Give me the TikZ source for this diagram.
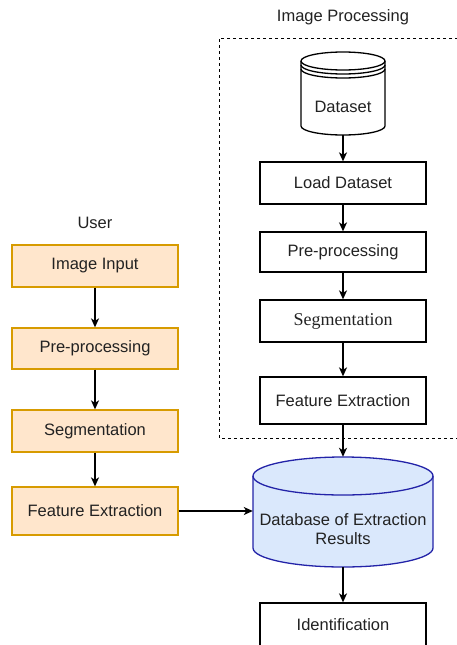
\documentclass[tikz,border=0pt]{standalone}
\usepackage{fontspec}
\setmainfont{Liberation Sans}
\newfontfamily\serifont{Liberation Serif}
\usetikzlibrary{arrows.meta}
\definecolor{orfill}{HTML}{FFE6CC}
\definecolor{ordraw}{HTML}{D79B00}
\definecolor{blfill}{HTML}{DAE8FC}
\definecolor{bldraw}{HTML}{2323A8}
\definecolor{txt}{HTML}{222222}
\begin{document}
\begin{tikzpicture}[x=1pt,y=-1pt,
  every node/.style={font=\fontsize{16.5}{19.5}\selectfont, text=txt, inner sep=0pt},
  plainbox/.style={draw=black, fill=white, line width=1.3pt, minimum width=166pt},
  userbox/.style={draw=ordraw, fill=orfill, line width=1.3pt, minimum width=166pt},
  arr/.style={line width=1.3pt, -{Stealth[length=9pt,width=8pt,inset=2.5pt]}},
  lbl/.style={}]
\clip (0,0) rectangle (457,645);
\useasboundingbox (0,0) rectangle (457,645);
% titles
\node[lbl] (t1) at (343,17) {Image Processing};
\node[lbl] (t2) at (95,223) {User};
% dashed frame
\draw[line width=1pt, dash pattern=on 3pt off 3pt] (470,38) -- (219,38) -- (219,438) -- (470,438);
% Dataset datastore
\node[minimum width=84pt, minimum height=83pt] (ds) at (343,93.5) {};
\begin{scope}[line width=1.3pt]
\filldraw[fill=white] (301,61) -- (301,126) arc[start angle=180,end angle=360,x radius=42,y radius=-9] -- (385,61) arc[start angle=0,end angle=180,x radius=42,y radius=-9] -- cycle;
\draw (301,61) arc[start angle=180,end angle=360,x radius=42,y radius=-9];
\draw (301,65) arc[start angle=180,end angle=360,x radius=42,y radius=-9];
\draw (301,69) arc[start angle=180,end angle=360,x radius=42,y radius=-9];
\end{scope}
\node (dstext) at (343,107) {Dataset};
% right column
\node[plainbox, minimum height=42pt] (load) at (343,183) {Load Dataset};
\node[plainbox, minimum height=40pt] (pre2) at (343,252) {Pre-processing};
\node[plainbox, minimum height=42pt, font=\serifont\fontsize{18}{21}\selectfont] (seg2) at (343,321) {Segmentation};
\node[plainbox, minimum height=47pt] (fe2) at (343,400.5) {Feature Extraction};
% database
\node[minimum width=180pt, minimum height=110pt] (db) at (343,512) {};
\begin{scope}[line width=1.3pt]
\filldraw[fill=blfill, draw=bldraw] (253,476) -- (253,548) arc[start angle=180,end angle=360,x radius=90,y radius=-19] -- (433,476) arc[start angle=0,end angle=180,x radius=90,y radius=-19] -- cycle;
\draw[bldraw] (253,476) arc[start angle=180,end angle=360,x radius=90,y radius=-19];
\end{scope}
\node[align=center] (dbtext) at (343,529) {Database of Extraction\\Results};
\node[plainbox, minimum height=54pt] (ident) at (343,630) {};
\node (identtext) at (343,625) {Identification};
% left column
\node[userbox, minimum height=42pt] (in1) at (95,266) {Image Input};
\node[userbox, minimum height=41pt] (pre1) at (95,348.5) {Pre-processing};
\node[userbox, minimum height=42pt] (seg1) at (95,431) {Segmentation};
\node[userbox, minimum height=48pt] (fe1) at (95,511) {Feature Extraction};
% arrows
\draw[arr] (ds.south) -- (load.north);
\draw[arr] (load) -- (pre2);
\draw[arr] (pre2) -- (seg2);
\draw[arr] (seg2) -- (fe2);
\draw[arr] (fe2.south) -- (db.north);
\draw[arr] (db.south) -- (ident.north);
\draw[arr] (in1) -- (pre1);
\draw[arr] (pre1) -- (seg1);
\draw[arr] (seg1) -- (fe1);
\draw[arr] (fe1.east) -- (fe1.east -| db.west);
\end{tikzpicture}
\end{document}
